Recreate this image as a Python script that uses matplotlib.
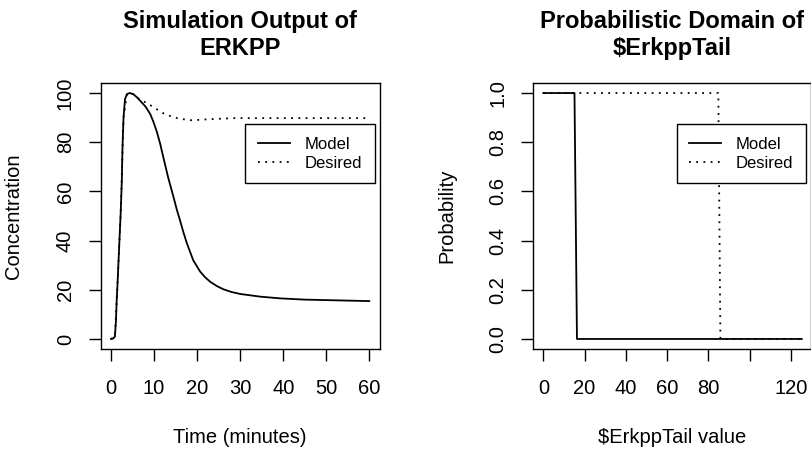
import matplotlib
matplotlib.use('Agg')
import matplotlib.pyplot as plt

plt.rcParams['font.family'] = ['Liberation Sans', 'DejaVu Sans']

# left panel: simulated ERKPP time course
time_model = [0, 0.5, 0.9, 1.15, 1.3, 1.55, 1.9, 2.25, 2.5, 2.65, 2.9, 3.25,
              3.7, 4.4, 5.2, 6.0, 6.7, 8.0, 9.1, 9.8, 10.6, 11.4, 12.2, 13.3,
              14.5, 15.3, 16.0, 16.8, 17.6, 19.1, 20.7, 21.8, 23.0, 24.5,
              26.1, 28.0, 30.0, 34.7, 39.3, 45.0, 50.0, 55.0, 60.0]
conc_model = [0, 0.2, 1, 7.5, 15, 24, 38, 51.5, 64, 77, 90, 97.5,
              99.6, 100, 99.5, 98.3, 97, 94.5, 91.5, 88.5, 84.5, 79.5, 73.5, 65.5,
              57.8, 52.5, 48.4, 43.5, 39, 32, 27.4, 25.2, 23.3, 21.6,
              20.2, 19.1, 18.3, 17.2, 16.5, 16.0, 15.8, 15.6, 15.4]

time_desired = [0, 0.9, 1.55, 2.25, 2.9, 3.7, 4.4, 5.2, 6.0, 6.7, 8.3, 11.0,
                12.6, 15.7, 18.8, 22.2, 28.4, 35.0, 45.0, 60.0]
conc_desired = [0, 1, 24, 51.5, 90, 99.6, 100, 99.5, 98.3, 97.3, 96, 93,
                91.3, 89.6, 88.9, 89.3, 89.8, 89.8, 89.8, 89.8]

# right panel: probabilistic domain of $ErkppTail
tail_model = [0, 15.1, 16.3, 125.2]
prob_model = [1, 1, 0, 0]
tail_desired = [0, 84.8, 85.8, 125.2]
prob_desired = [1, 1, 0, 0]

left_xticks = [0, 10, 20, 30, 40, 50, 60]
left_yticks = [0, 20, 40, 60, 80, 100]
right_xticks = [0, 20, 40, 60, 80, 100, 120]
right_xlabels = ['0', '20', '40', '60', '80', '', '120']   # R drops the crowded "100"
right_yticks = [0.0, 0.2, 0.4, 0.6, 0.8, 1.0]

W, H = 811, 450
fig = plt.figure(figsize=(W / 100, H / 100), dpi=100)

ax1 = fig.add_axes([100.7 / W, 1 - 348.8 / H, 278.9 / W, 265.6 / H])
ax2 = fig.add_axes([533.0 / W, 1 - 348.8 / H, 278.0 / W, 265.6 / H])

DOT = (1, 3)


def style_axes(ax):
    for sp in ax.spines.values():
        sp.set_linewidth(1.0)
        sp.set_color('black')
    ax.tick_params(direction='out', length=8.6, width=1.0, labelsize=14.5,
                   colors='black')
    ax.tick_params(axis='x', pad=13)
    ax.tick_params(axis='y', pad=10)
    for lbl in ax.get_yticklabels():
        lbl.set_rotation(90)
        lbl.set_va('center')


def add_legend(ax):
    leg = ax.legend(loc='upper right', bbox_to_anchor=(0.982, 0.846),
                    fontsize=12, frameon=True, fancybox=False, framealpha=1,
                    edgecolor='black', borderpad=0.75, borderaxespad=0,
                    handlelength=1.9, handletextpad=0.9, labelspacing=0.25)
    leg.get_frame().set_linewidth(1.0)


# left plot
ax1.plot(time_model, conc_model, color='black', lw=1.3, label='Model')
ax1.plot(time_desired, conc_desired, color='black', lw=1.3,
         linestyle=(0, DOT), label='Desired')
ax1.set_xlim(-2.4, 62.4)
ax1.set_ylim(-4, 104)
ax1.set_xticks(left_xticks)
ax1.set_yticks(left_yticks)
style_axes(ax1)
ax1.set_xlabel('Time (minutes)', fontsize=14.5)
ax1.set_ylabel('Concentration', fontsize=14.5)
ax1.xaxis.set_label_coords(0.5, -0.297)
ax1.yaxis.set_label_coords(-0.279, 0.5)
ax1.set_title('Simulation Output of\nERKPP', fontsize=17, fontweight='bold',
              y=1.15, va='center', linespacing=1.27)
add_legend(ax1)

# right plot
ax2.plot(tail_model, prob_model, color='black', lw=1.3, label='Model')
ax2.plot(tail_desired, prob_desired, color='black', lw=1.3,
         linestyle=(0, DOT), label='Desired')
ax2.set_xlim(-5, 129.7)
ax2.set_ylim(-0.04, 1.04)
ax2.set_xticks(right_xticks)
ax2.set_xticklabels(right_xlabels)
ax2.set_yticks(right_yticks)
ax2.set_yticklabels([f'{v:.1f}' for v in right_yticks])
style_axes(ax2)
ax2.set_xlabel('$ErkppTail value', fontsize=14.5)
ax2.set_ylabel('Probability', fontsize=14.5)
ax2.xaxis.set_label_coords(0.5, -0.297)
ax2.yaxis.set_label_coords(-0.277, 0.5)
ax2.set_title('Probabilistic Domain of\n$ErkppTail', fontsize=17,
              fontweight='bold', y=1.15, va='center', linespacing=1.27)
add_legend(ax2)

fig.savefig('out.png', dpi=100)
